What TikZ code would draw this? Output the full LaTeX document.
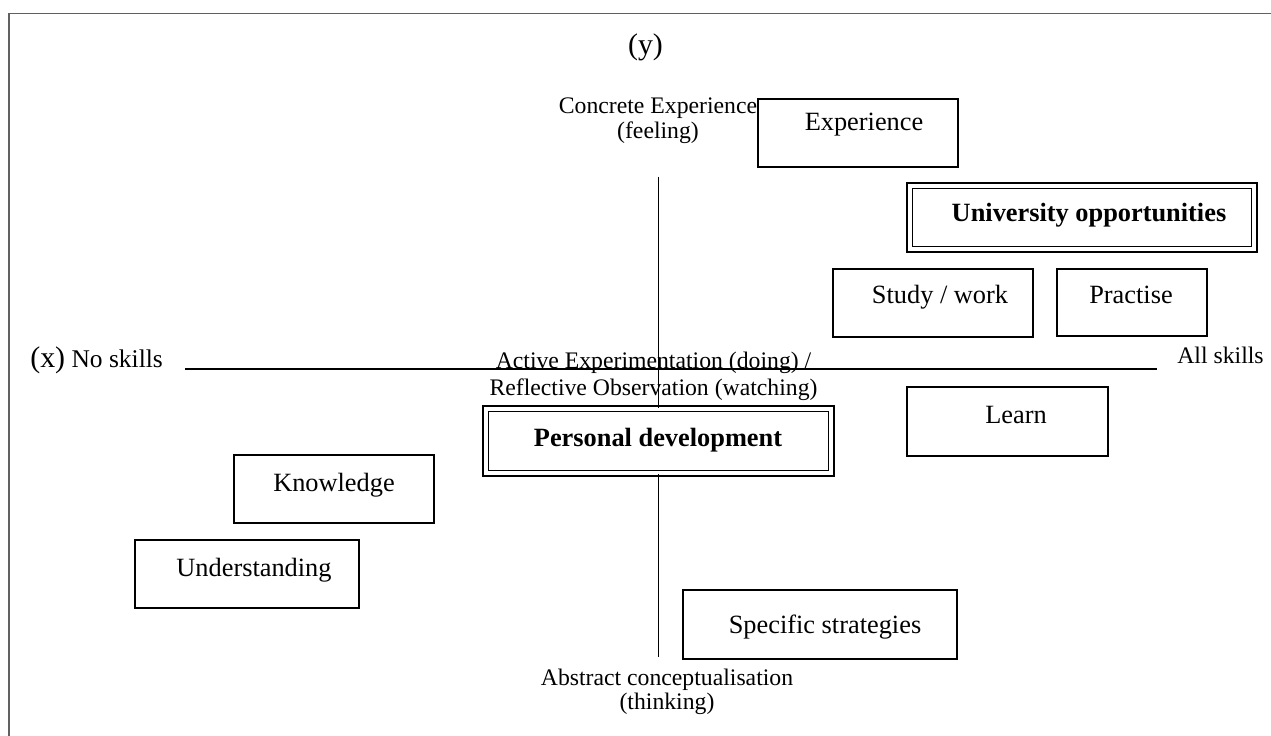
\documentclass[tikz,border=0pt]{standalone}
\usepackage{fontspec}
\setmainfont{Liberation Serif}
\tikzset{box/.style = {draw, line width = 0.85pt, inner sep = 0, minimum width = 4cm, minimum height = 1.36cm}}
\tikzset{dbox/.style = {draw, double, double distance = 0.08cm, line width = 0.9pt, inner sep = 0}}
\tikzset{txt/.style = {anchor = base, inner sep = 0, font = \fontsize{15}{18}\selectfont}}
\tikzset{small/.style = {inner sep = 0, align = center, font = \fontsize{13.5}{14}\selectfont}}
\tikzset{axis/.style = {line width = 0.7pt}}

\begin{document}
\begin{tikzpicture}[x = 0.02cm, y = -0.02cm]
    \useasboundingbox (0, 0) rectangle (1271, 736);
    \draw [black!62, line width = 0.85pt] (9, 736) -- (9, 13.5) -- (1271, 13.5);
    % axes labels
    \node [anchor = base, inner sep = 0, font = \fontsize{17}{17}\selectfont] (ylbl) at (645.5, 55) {(y)};
    \node [anchor = base west, inner sep = 0, font = \fontsize{14.5}{17}\selectfont] (xlbl) at (30, 368) {{\fontsize{17}{17}\selectfont (x)} No skills};
    \node [small, anchor = base west] (allskills) at (1177, 364) {All skills};
    \node [small] (concrete) at (658, 120.7) {Concrete Experience\\(feeling)};
    \node [small, font = \fontsize{13.5}{15.3}\selectfont] (activerefl) at (653.5, 376) {Active Experimentation (doing) /\\Reflective Observation (watching)};
    \node [small] (abstract) at (667, 692) {Abstract conceptualisation\\(thinking)};
    % axes
    \coordinate (xl) at (185, 369);
    \coordinate (xr) at (1157, 369);
    \coordinate (ytop) at (658.5, 177);
    \coordinate (ybot) at (658.5, 657);
    \draw [axis] (xl) -- (xr);
    % boxes
    \node [box] (exp) at (858, 133) {};
    \node [txt] (exptext) at (864, 131) {Experience};
    \node [dbox, minimum width = 6.9cm, minimum height = 1.28cm] (uniopp) at (1082, 217.5) {};
    \node [txt, font = \fontsize{15}{18}\selectfont\bfseries] (uniopptext) at (1089, 222) {University opportunities};
    \node [box] (study) at (933, 303) {};
    \node [txt] (studytext) at (940, 304) {Study / work};
    \node [box, minimum width = 3cm, minimum height = 1.34cm] (practise) at (1132, 302.5) {};
    \node [txt] (practisetext) at (1131, 304) {Practise};
    \node [box, minimum width = 4.02cm, minimum height = 1.38cm] (learn) at (1007.5, 421.5) {};
    \node [txt] (learntext) at (1016, 423) {Learn};
    \node [dbox, minimum width = 6.92cm, minimum height = 1.3cm] (persdev) at (658.5, 441) {};
    \node [txt, font = \fontsize{15}{18}\selectfont\bfseries] (persdevtext) at (658, 446) {Personal development};
    \node [box] (knowl) at (334, 489) {};
    \node [txt] (knowltext) at (334, 491) {Knowledge};
    \node [box, minimum width = 4.48cm] (underst) at (247, 574) {};
    \node [txt] (understtext) at (254, 576) {Understanding};
    \node [box, minimum width = 5.48cm, minimum height = 1.38cm] (strat) at (820, 624.5) {};
    \node [txt] (strattext) at (825, 633) {Specific strategies};
    \draw [axis] (ytop) -- (persdev);
    \draw [axis] (persdev) -- (ybot);
\end{tikzpicture}
\end{document}
